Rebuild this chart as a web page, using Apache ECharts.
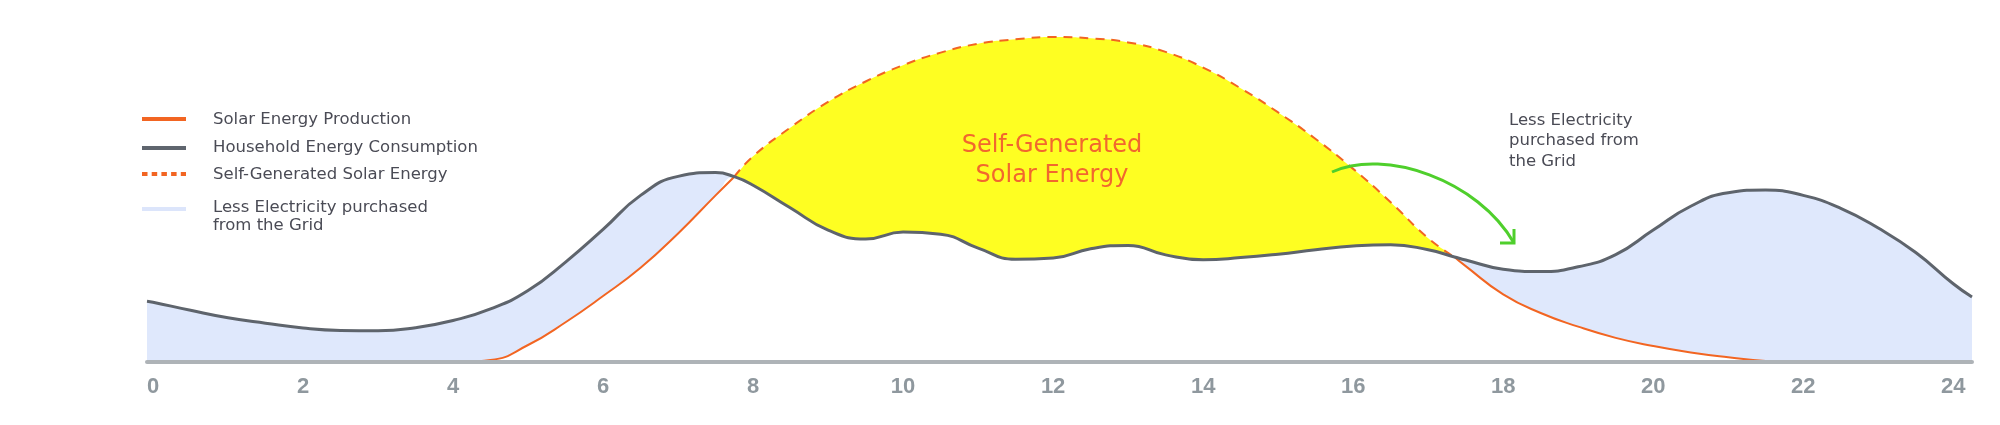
<!DOCTYPE html>
<html>
<head>
<meta charset="utf-8">
<script src="https://cdn.jsdelivr.net/npm/echarts@6/dist/echarts.min.js"></script>
<style>
  html, body { margin: 0; padding: 0; background: #ffffff; }
  #chart { width: 2000px; height: 425px; }
</style>
</head>
<body>
<div id="chart"></div>
<script>
// ---- Data (hours of the day, energy in relative kW units) ----
const hours = [-0.08, 0, 0.5, 1, 1.5, 2, 2.5, 3, 3.5, 4, 4.5, 5, 5.5, 6, 6.5, 7, 7.5, 7.75,
  8, 8.5, 9, 9.5, 10, 10.5, 11, 11.5, 12, 12.5, 13, 13.5, 14, 14.5, 15, 15.5, 16, 16.5, 17, 17.35,
  17.5, 18, 18.5, 19, 19.5, 20, 20.5, 21, 21.5, 22, 22.5, 23, 23.5, 24, 24.25];

const consumption = [1.79, 1.76, 1.52, 1.30, 1.14, 1.00, 0.93, 0.92, 1.01, 1.22, 1.56, 2.10, 2.94, 3.90, 4.90, 5.46, 5.57, 5.45,
  5.20, 4.53, 3.88, 3.62, 3.82, 3.76, 3.35, 3.02, 3.06, 3.33, 3.43, 3.15, 3.01, 3.07, 3.17, 3.30, 3.41, 3.45, 3.30, 3.09,
  3.00, 2.73, 2.66, 2.80, 3.16, 3.88, 4.58, 4.98, 5.06, 4.90, 4.52, 3.94, 3.22, 2.30, 1.91];

const solar = [0, 0, 0, 0, 0, 0, 0, 0, 0, 0, 0.06, 0.50, 1.17, 1.94, 2.77, 3.78, 4.90, 5.45,
  6.05, 6.90, 7.65, 8.25, 8.73, 9.10, 9.36, 9.49, 9.56, 9.52, 9.40, 9.12, 8.66, 8.05, 7.34, 6.56, 5.68, 4.70, 3.64, 3.09,
  2.82, 1.99, 1.44, 1.04, 0.71, 0.47, 0.28, 0.14, 0.03, 0, 0, 0, 0, 0, 0];

const tickHours = [0, 2, 4, 6, 8, 10, 12, 14, 16, 18, 20, 22, 24];

const legendNames = ['Solar Energy Production', 'Household Energy Consumption', 'Self-Generated Solar Energy', 'Less Electricity purchased\nfrom the Grid'];
const annotationText = 'Less Electricity\npurchased from\nthe Grid';
const areaLabel = 'Self-Generated\nSolar Energy';

// ---- Derived series ----
const pts = (arr) => hours.map((h, i) => [h, arr[i]]);
const lower = consumption.map((c, i) => Math.min(c, solar[i]));
const solarSolid = hours.map((h, i) => (solar[i] <= consumption[i] + 1e-9) ? [h, solar[i]] : [h, null]);
const solarDashed = hours.map((h, i) => (solar[i] >= consumption[i] - 1e-9) ? [h, solar[i]] : [h, null]);

const ORANGE = '#f26522';
const GRAY = '#5e646c';
const BLUE = '#dfe8fc';
const YELLOW = '#fefe22';
const GREEN = '#4fcf2c';
const TEXT = '#4a4b55';
const FONT = 'DejaVu Sans';
const SMOOTH = 0.5;

const chart = echarts.init(document.getElementById('chart'), null, { renderer: 'canvas' });

const areaOnly = (name, arr, color) => ({
  type: 'line', name: name, data: pts(arr), smooth: SMOOTH, showSymbol: false, symbol: 'none', silent: true,
  lineStyle: { width: 0, opacity: 0 }, areaStyle: { color: color, opacity: 1 }
});

chart.setOption({
  animation: false,
  backgroundColor: '#ffffff',
  grid: { left: 147, right: 28, top: 22, bottom: 63 },
  xAxis: {
    type: 'value', min: -0.08, max: 24.25, z: 10,
    splitLine: { show: false },
    axisTick: { show: false },
    axisLine: { onZero: false, lineStyle: { color: '#aeb3b7', width: 4 } },
    axisLabel: {
      customValues: tickHours, margin: 14,
      color: '#8f989e', fontSize: 22, fontFamily: 'Liberation Sans', fontWeight: 'bold'
    }
  },
  yAxis: { type: 'value', min: 0, max: 10, show: false },
  series: [
    areaOnly('Less Electricity purchased from the Grid', consumption, BLUE),
    areaOnly('Self-Generated area', solar, YELLOW),
    areaOnly('base', lower, '#ffffff'),
    { type: 'line', name: 'Solar Energy Production', data: solarSolid, smooth: SMOOTH, showSymbol: false, symbol: 'none',
      connectNulls: false, lineStyle: { color: ORANGE, width: 2 } },
    { type: 'line', name: 'Self-Generated Solar Energy', data: solarDashed, smooth: SMOOTH, showSymbol: false, symbol: 'none',
      connectNulls: false, lineStyle: { color: ORANGE, width: 2, type: [9, 7] } },
    { type: 'line', name: 'Household Energy Consumption', data: pts(consumption), smooth: SMOOTH, showSymbol: false, symbol: 'none',
      lineStyle: { color: GRAY, width: 3 } }
  ],
  graphic: [
    // legend
    { type: 'line', shape: { x1: 142, y1: 119, x2: 186, y2: 119 }, style: { stroke: ORANGE, lineWidth: 4 } },
    { type: 'text', x: 213, y: 120, style: { text: legendNames[0], fill: TEXT, fontSize: 16.5, fontFamily: FONT, verticalAlign: 'middle' } },
    { type: 'line', shape: { x1: 142, y1: 148, x2: 186, y2: 148 }, style: { stroke: '#5f656e', lineWidth: 4 } },
    { type: 'text', x: 213, y: 148, style: { text: legendNames[1], fill: TEXT, fontSize: 16.5, fontFamily: FONT, verticalAlign: 'middle' } },
    { type: 'line', shape: { x1: 142, y1: 174, x2: 186, y2: 174 }, style: { stroke: ORANGE, lineWidth: 4, lineDash: [5.5, 4.2] } },
    { type: 'text', x: 213, y: 175, style: { text: legendNames[2], fill: TEXT, fontSize: 16.5, fontFamily: FONT, verticalAlign: 'middle' } },
    { type: 'line', shape: { x1: 142, y1: 209, x2: 186, y2: 209 }, style: { stroke: '#dce5fb', lineWidth: 4 } },
    { type: 'text', x: 213, y: 217, style: { text: legendNames[3], fill: TEXT, fontSize: 16.5, lineHeight: 18, fontFamily: FONT, verticalAlign: 'middle' } },
    // right annotation
    { type: 'text', x: 1509, y: 141, style: { text: annotationText, fill: TEXT, fontSize: 16.5, lineHeight: 20.5, fontFamily: FONT, verticalAlign: 'middle' } },
    // area label
    { type: 'text', x: 1052, y: 161, z: 20, style: { text: areaLabel, fill: '#f2672e', fontSize: 24, lineHeight: 30, fontFamily: FONT, align: 'center', verticalAlign: 'middle' } },
    // green arrow
    { type: 'bezierCurve', z: 20, shape: { x1: 1332, y1: 172, cpx1: 1385, cpy1: 148, cpx2: 1478, cpy2: 180, x2: 1514, y2: 243 },
      style: { stroke: GREEN, lineWidth: 3, fill: null } },
    { type: 'polyline', z: 20, shape: { points: [[1500, 243], [1514, 243], [1514, 229]] },
      style: { stroke: GREEN, lineWidth: 3, fill: null } }
  ]
});
</script>
</body>
</html>
